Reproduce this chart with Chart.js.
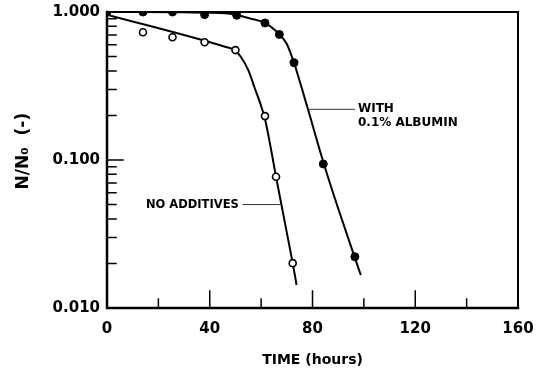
<!DOCTYPE html>
<html>
<head>
<meta charset="utf-8">
<script src="https://cdn.jsdelivr.net/npm/chart.js@4.4.1/dist/chart.umd.min.js"></script>
<style>
  html, body { margin: 0; padding: 0; background: #fff; }
  #contenedor { width: 542px; height: 371px; }
</style>
</head>
<body>
<div id="contenedor"><canvas id="grafico"></canvas></div>
<script>
// measured points (hours, N/N0)
const tiempoAlbumina = [0, 14, 25.5, 38, 50.5, 61.5, 67.1, 72.8, 84.2, 96.5];
const ratioAlbumina = [1.0, 1.0, 1.0, 0.96, 0.95, 0.843, 0.705, 0.454, 0.094, 0.0222];
const tiempoSin = [14, 25.5, 38, 50, 61.5, 65.8, 72.3];
const ratioSin = [0.73, 0.675, 0.625, 0.553, 0.198, 0.077, 0.0201];

// hand drawn fit curves
const curvaAlbT = [0, 30, 45.9, 50.5, 55.7, 61.5, 67.1, 70, 72.8, 75.8, 79, 84.2, 90, 96.5, 98.8];
const curvaAlbN = [1.0, 0.995, 0.98, 0.953, 0.904, 0.843, 0.705, 0.608, 0.454, 0.307, 0.198, 0.097, 0.047, 0.0218, 0.0167];
const curvaSinT = [0, 45.9, 49.8, 52, 55, 57.6, 59.6, 61.5, 64.1, 65.8, 72.3, 73.8];
const curvaSinN = [0.96, 0.583, 0.553, 0.5, 0.405, 0.303, 0.243, 0.189, 0.112, 0.077, 0.0201, 0.0143];

const ticksX = [0, 40, 80, 120, 160];
const ticksY = [0.01, 0.1, 1];

const fuente = '"DejaVu Sans", sans-serif';
const pares = (xs, ys) => xs.map((x, i) => ({ x: x, y: ys[i] }));
const sinRelleno = s => { s.paddingTop = 0; s.paddingBottom = 0; s.paddingLeft = 0; s.paddingRight = 0; };

// frame, inward ticks, labels
const marco = {
    id: 'marco',
    afterDraw(chart) {
        const { ctx, chartArea: a, scales: { x, y } } = chart;
        ctx.save();
        ctx.strokeStyle = '#000';
        ctx.lineCap = 'square';
        ctx.lineWidth = 2.5;
        ctx.beginPath();
        ctx.moveTo(a.left, a.top); ctx.lineTo(a.left, a.bottom); ctx.lineTo(a.right, a.bottom);
        ctx.stroke();
        ctx.lineWidth = 2;
        ctx.beginPath();
        ctx.moveTo(a.left, a.top); ctx.lineTo(a.right, a.top); ctx.lineTo(a.right, a.bottom);
        ctx.stroke();

        ctx.lineWidth = 1.5;
        ctx.beginPath();
        for (let d = 0.01; d < 1; d *= 10) {
            for (let m = 1; m <= 9; m++) {
                const py = y.getPixelForValue(d * m);
                const largo = m === 1 ? 16 : 9;
                ctx.moveTo(a.left, py); ctx.lineTo(a.left + largo, py);
            }
        }
        for (let t = 20; t < 160; t += 20) {
            const px = x.getPixelForValue(t);
            const largo = t % 40 === 0 ? 17 : 9;
            ctx.moveTo(px, a.bottom); ctx.lineTo(px, a.bottom - largo);
        }
        ctx.stroke();

        // leader lines
        ctx.lineWidth = 1;
        ctx.strokeStyle = '#333';
        ctx.beginPath();
        ctx.moveTo(x.getPixelForValue(78.2), y.getPixelForValue(0.22));
        ctx.lineTo(x.getPixelForValue(96.3), y.getPixelForValue(0.22));
        ctx.moveTo(x.getPixelForValue(53), y.getPixelForValue(0.05));
        ctx.lineTo(x.getPixelForValue(67.4), y.getPixelForValue(0.05));
        ctx.stroke();

        ctx.fillStyle = '#000';
        ctx.font = 'bold 12px ' + fuente;
        ctx.textBaseline = 'middle';
        ctx.textAlign = 'left';
        ctx.fillText('WITH', x.getPixelForValue(97.7), y.getPixelForValue(0.22));
        ctx.fillText('0.1% ALBUMIN', x.getPixelForValue(97.7), y.getPixelForValue(0.177));
        ctx.textAlign = 'right';
        ctx.font = 'bold 11.5px ' + fuente;
        ctx.fillText('NO ADDITIVES', x.getPixelForValue(51.3), y.getPixelForValue(0.05));
        ctx.restore();
    }
};

const ctx = document.getElementById('grafico').getContext('2d');
window.miGrafico = new Chart(ctx, {
    type: 'scatter',
    data: {
        datasets: [
            {
                label: 'With 0.1% albumin',
                data: pares(tiempoAlbumina, ratioAlbumina),
                pointRadius: 4,
                pointBackgroundColor: '#000',
                pointBorderColor: '#000',
                pointBorderWidth: 1,
                showLine: false,
                order: 1
            },
            {
                label: 'No additives',
                data: pares(tiempoSin, ratioSin),
                pointRadius: 3.5,
                pointBackgroundColor: '#fff',
                pointBorderColor: '#000',
                pointBorderWidth: 1.6,
                showLine: false,
                order: 1
            },
            {
                label: 'fit albumin',
                data: pares(curvaAlbT, curvaAlbN),
                showLine: true,
                pointRadius: 0,
                borderColor: '#000',
                borderWidth: 2,
                cubicInterpolationMode: 'monotone',
                order: 2
            },
            {
                label: 'fit none',
                data: pares(curvaSinT, curvaSinN),
                showLine: true,
                pointRadius: 0,
                borderColor: '#000',
                borderWidth: 2,
                cubicInterpolationMode: 'monotone',
                order: 2
            }
        ]
    },
    options: {
        responsive: true,
        maintainAspectRatio: false,
        animation: false,
        layout: { padding: { left: 0, right: 24, top: 12, bottom: 0 } },
        plugins: {
            legend: { display: false },
            tooltip: { enabled: false }
        },
        scales: {
            x: {
                type: 'linear',
                min: 0,
                max: 160,
                afterBuildTicks: s => { s.ticks = ticksX.map(v => ({ value: v })); },
                afterFit: s => { s.height = 63; sinRelleno(s); },
                grid: { display: false, drawTicks: false },
                border: { display: false },
                ticks: {
                    padding: 12,
                    color: '#000',
                    font: { family: fuente, size: 15, weight: 'bold' }
                },
                title: {
                    display: true,
                    text: 'TIME (hours)',
                    color: '#000',
                    padding: { top: 0, bottom: 2 },
                    font: { family: fuente, size: 14, weight: 'bold' }
                }
            },
            y: {
                type: 'logarithmic',
                min: 0.01,
                max: 1,
                afterBuildTicks: s => { s.ticks = ticksY.map(v => ({ value: v })); },
                afterFit: s => { s.width = 107; sinRelleno(s); },
                grid: { display: false, drawTicks: false },
                border: { display: false },
                ticks: {
                    padding: 7,
                    color: '#000',
                    font: { family: fuente, size: 15, weight: 'bold' },
                    callback: v => Number(v).toFixed(3)
                },
                title: {
                    display: true,
                    text: '   N/N\u2080  (-)',
                    color: '#000',
                    padding: { top: 13, bottom: 0 },
                    font: { family: fuente, size: 17, weight: 'bold' }
                }
            }
        }
    },
    plugins: [marco]
});
</script>
</body>
</html>
